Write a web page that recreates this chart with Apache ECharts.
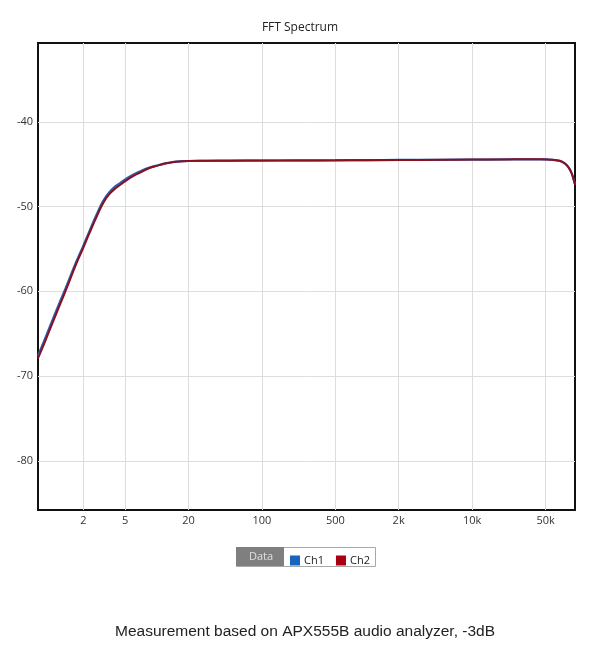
<!DOCTYPE html>
<html>
<head>
<meta charset="utf-8">
<script src="https://cdn.jsdelivr.net/npm/echarts@6/dist/echarts.min.js"></script>
<style>
html,body{margin:0;padding:0;background:#fff;}
#chart{width:600px;height:656px;}
</style>
</head>
<body>
<div id="chart"></div>
<script>
var freqs = [0.74, 0.85, 1, 1.2, 1.4, 1.7, 2, 2.3, 2.7, 3.1, 3.5, 4, 4.5, 5, 6, 7, 8.5, 10, 12, 14, 17, 20, 30, 50, 100, 200, 500, 1000, 2000, 5000, 10000, 20000, 35000, 45000, 52000, 58000, 64000, 68000, 72000, 76000, 80000, 84000, 88000, 91000, 95300];
var ch1 = [-67.6, -65.8, -63.6, -61.2, -59.2, -56.6, -54.6, -52.8, -50.8, -49.3, -48.35, -47.65, -47.2, -46.8, -46.22, -45.82, -45.4, -45.15, -44.9, -44.76, -44.66, -44.62, -44.6, -44.58, -44.57, -44.56, -44.54, -44.52, -44.5, -44.48, -44.46, -44.44, -44.42, -44.42, -44.44, -44.48, -44.54, -44.6, -44.72, -44.9, -45.15, -45.5, -46.0, -46.5, -47.4];
var ch2 = [-67.9, -66.15, -63.95, -61.55, -59.5, -56.85, -54.85, -53.05, -51.1, -49.55, -48.6, -47.9, -47.43, -47.0, -46.38, -45.96, -45.45, -45.2, -44.92, -44.77, -44.66, -44.62, -44.6, -44.58, -44.57, -44.56, -44.54, -44.52, -44.5, -44.48, -44.46, -44.44, -44.42, -44.42, -44.44, -44.48, -44.54, -44.6, -44.72, -44.9, -45.15, -45.5, -46.0, -46.5, -47.4];
var xTicks = [2, 5, 20, 100, 500, 2000, 10000, 50000];
var yTicks = [-80, -70, -60, -50, -40];
var seriesNames = ['Ch1', 'Ch2'];
var titleText = 'FFT Spectrum';
var footText = 'Measurement based on APX555B audio analyzer, -3dB';

function pairs(xs, ys){ return xs.map(function(x,i){ return [x, ys[i]]; }); }
function fmtHz(v){
  v = Math.round(v);
  if (v >= 1000) return (v/1000) + 'k';
  return String(v);
}

var chart = echarts.init(document.getElementById('chart'), null, {renderer:'canvas'});
chart.setOption({
  animation: false,
  backgroundColor: '#fff',
  title: {
    text: titleText, left: 'center', top: 17,
    textStyle: {fontFamily: 'Open Sans', fontSize: 12, fontWeight: 'normal', color: '#222'}
  },
  grid: {left: 38, right: 25, top: 43, bottom: 146, show: true, borderColor: '#111', borderWidth: 2, backgroundColor: 'transparent'},
  legend: {
    left: 285, top: 550, itemWidth: 10, itemHeight: 10, itemGap: 12, icon: 'rect',
    selectedMode: false,
    textStyle: {fontFamily: 'Open Sans', fontSize: 11, color: '#222', padding: [0,0,0,-1]},
    data: seriesNames
  },
  graphic: [
    {type: 'rect', left: 236, top: 547, shape: {width: 139, height: 19}, style: {fill: '#fff', stroke: '#a8a8a8', lineWidth: 1}, z: -1},
    {type: 'rect', left: 236, top: 547, shape: {width: 48, height: 19}, style: {fill: '#7f7f7f'}, z: 0},
    {type: 'text', left: 249, top: 551, style: {text: 'Data', fill: '#e0e0e0', font: '11px "Open Sans"'}},
    {type: 'text', left: 115, top: 624, style: {text: footText, fill: '#222', font: '15.5px "Liberation Sans"'}}
  ],
  xAxis: {
    type: 'log', logBase: 10, min: 0.74, max: 95300,
    axisLine: {show: false},
    axisTick: {show: false, customValues: xTicks},
    axisLabel: {customValues: xTicks, formatter: fmtHz, fontFamily: 'Open Sans', fontSize: 11, color: '#333', margin: 5},
    splitLine: {show: true, lineStyle: {color: '#dedede', width: 1}},
    minorSplitLine: {show: false}
  },
  yAxis: {
    type: 'value', min: -85.8, max: -30.7,
    axisLine: {show: false},
    axisTick: {show: false, customValues: yTicks},
    axisLabel: {customValues: yTicks, fontFamily: 'Open Sans', fontSize: 11, color: '#333', margin: 5},
    splitLine: {show: true, lineStyle: {color: '#dedede', width: 1}}
  },
  series: [
    {name: seriesNames[0], type: 'line', data: pairs(freqs, ch1), smooth: 0.5, showSymbol: false, color: '#1565c0', lineStyle: {width: 2.2, color: '#2a5fb0'}},
    {name: seriesNames[1], type: 'line', data: pairs(freqs, ch2), smooth: 0.5, showSymbol: false, color: '#a80010', lineStyle: {width: 2, color: '#8a1020'}}
  ]
});
</script>
</body>
</html>
